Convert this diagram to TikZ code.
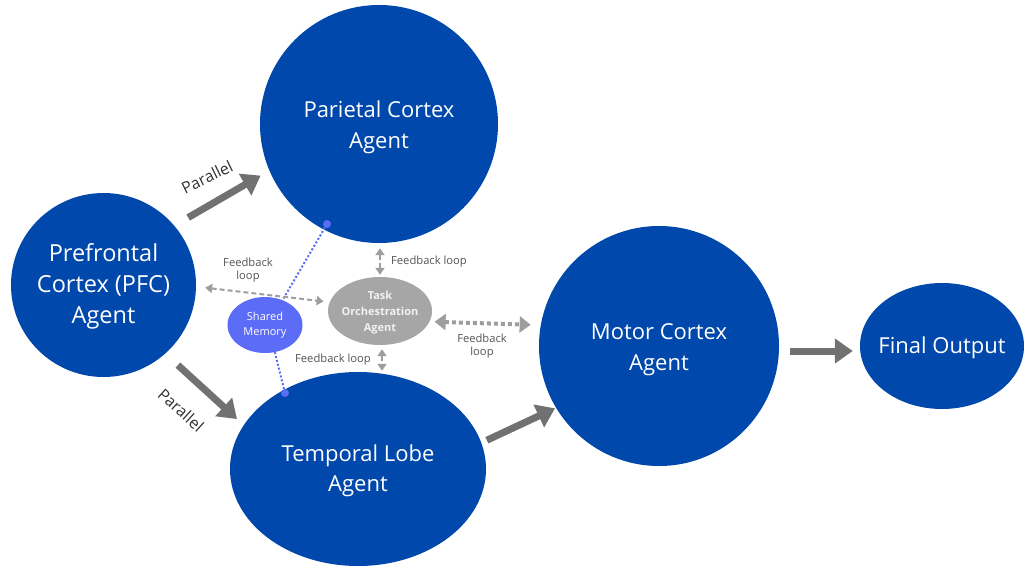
\documentclass[tikz,border=0pt]{standalone}
\usepackage{fontspec}
\setmainfont{Open Sans}
\usetikzlibrary{shapes.geometric,arrows.meta}
\definecolor{cblue}{HTML}{0048AB}
\definecolor{cgray}{HTML}{A6A6A6}
\definecolor{cshm}{HTML}{5B6CF6}
\definecolor{carrow}{HTML}{717171}
\definecolor{cdash}{HTML}{9E9E9E}
\definecolor{clabel}{HTML}{555555}
\begin{document}
\begin{tikzpicture}[x=1pt,y=-1pt,
  agent/.style={ellipse, fill=cblue, inner sep=0pt},
  bigtext/.style={text=white, align=center, inner sep=0pt, font=\fontsize{22}{30.5}\selectfont},
  bigarrow/.style={carrow, line width=7pt, -{Triangle[length=18pt,width=24pt]}},
  fbarrow/.style={cdash, line width=2pt, dash pattern=on 5pt off 3pt, {Triangle[length=7pt,width=9pt]}-{Triangle[length=7pt,width=9pt]}},
  fbdotted/.style={cdash, line width=4pt, dash pattern=on 4pt off 3pt, {Triangle[length=11pt,width=16pt]}-{Triangle[length=11pt,width=16pt]}},
  fblabel/.style={text=clabel, font=\fontsize{11.2}{13.5}\selectfont, align=center, inner sep=0pt},
  parlabel/.style={text=black!80, font=\fontsize{16}{18}\selectfont, inner sep=0pt},
  memline/.style={cshm, line width=2pt, dotted},
  memdot/.style={circle, fill=cshm, minimum size=8pt, inner sep=0pt}
]
\useasboundingbox[fill=white] (0,0) rectangle (1024,565);

% main agents
\node[agent, minimum width=185pt, minimum height=184pt] (pfc) at (103.5,285) {};
\node[agent, minimum width=238pt, minimum height=238pt] (par) at (379,124) {};
\node[agent, minimum width=256pt, minimum height=194pt] (tem) at (358,469) {};
\node[agent, minimum width=240pt, minimum height=240pt] (mot) at (659,346) {};
\node[agent, minimum width=164pt, minimum height=126pt] (fin) at (942,346) {};

\node[bigtext, font=\fontsize{23.5}{31}\selectfont] (pfct) at ([yshift=-1.5pt]pfc.center) {Prefrontal\\Cortex (PFC)\\Agent};
\node[bigtext] (part) at ([yshift=-3.5pt]par.center) {Parietal Cortex\\Agent};
\node[bigtext] (temt) at ([yshift=-2pt]tem.center) {Temporal Lobe\\Agent};
\node[bigtext] (mott) at ([yshift=-3.5pt]mot.center) {Motor Cortex\\Agent};
\node[bigtext] (fint) at ([yshift=-2pt]fin.center) {Final Output};

% blue dotted shared memory links
\node[memdot] (d1) at (327,224) {};
\node[memdot] (d2) at (285,393) {};
\draw[memline] (d1) -- (268,325);
\draw[memline] (268,325) -- (d2);

% task orchestration and shared memory
\node[ellipse, fill=cgray, minimum width=104pt, minimum height=68pt, inner sep=0pt] (task) at (380,311) {};
\node[text=white!95!black, align=center, inner sep=0pt,
  font=\bfseries\fontsize{11}{16}\selectfont] (taskt) at ([yshift=-2pt]task.center) {Task\\Orchestration\\Agent};
\node[ellipse, fill=cshm, minimum width=75pt, minimum height=56pt, inner sep=0pt, text=white, align=center,
  font=\fontsize{11}{15}\selectfont] (shm) at (265,325) {Shared\\Memory};

% thick arrows
\draw[bigarrow, shorten <=16pt, shorten >=10pt] (pfc.40) -- (par.203);
\draw[bigarrow, shorten <=17pt, shorten >=9pt] (pfc.-48) -- (tem.159);
\draw[bigarrow, shorten <=6pt, shorten >=1pt] (tem.12) -- (mot.211);
\draw[bigarrow, shorten <=11pt, shorten >=7pt] ([yshift=-5pt]mot.east) -- ([yshift=-5pt]fin.west);

% feedback arrows
\draw[fbarrow, shorten <=9pt, shorten >=6pt] (pfc.-1) -- (task.170);
\draw[fbarrow, shorten <=5pt, shorten >=2pt] ([xshift=1pt]par.south) -- (task.north);
\draw[fbarrow, shorten <=4pt, shorten >=1pt] ([xshift=2pt]task.south) -- ([xshift=2pt]task.south |- tem.north);
\draw[fbdotted, shorten <=5pt, shorten >=10pt] (task.-12) -- (mot.170);

% labels
\node[fblabel] (l1) at (248,270) {Feedback\\loop};
\node[fblabel] (l2) at (429,262) {Feedback loop};
\node[fblabel] (l3) at (333,360) {Feedback loop};
\node[fblabel] (l4) at (482,346) {Feedback\\loop};
\node[parlabel, rotate=26] (p1) at (207,177) {Parallel};
\node[parlabel, rotate=-42] (p2) at (181,410) {Parallel};
\end{tikzpicture}
\end{document}
